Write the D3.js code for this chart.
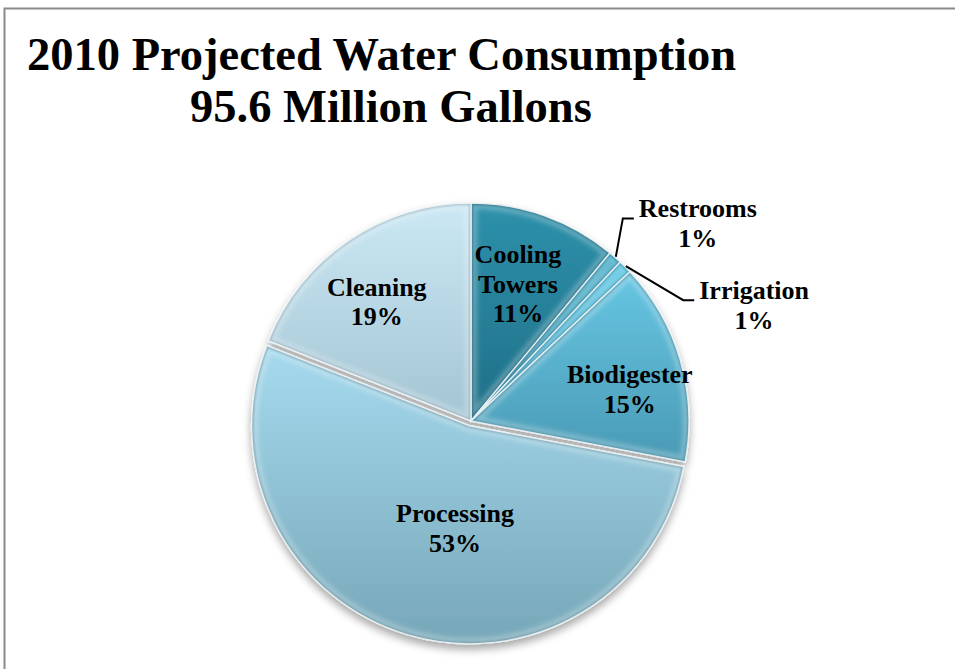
<!DOCTYPE html>
<html>
<head>
<meta charset="utf-8">
<script src="https://cdn.jsdelivr.net/npm/d3@7"></script>
<style>
  html, body { margin: 0; padding: 0; background: #ffffff; }
  svg { display: block; }
</style>
</head>
<body>
<svg id="chart" width="955" height="669"></svg>
<script>
// ---- data ----
const titleLines = ["2010 Projected Water Consumption", "95.6 Million Gallons"];
const categories = ["Cooling Towers", "Restrooms", "Irrigation", "Biodigester", "Processing", "Cleaning"];
const labelNames = [["Cooling", "Towers"], ["Restrooms"], ["Irrigation"], ["Biodigester"], ["Processing"], ["Cleaning"]];
const shares = [11, 1, 1, 15, 53, 19];

// ---- styling ----
const topColors    = ["#2e91ab", "#3aa8c6", "#4cc0e0", "#66c6e3", "#a6daee", "#cbe8f4"];
const bottomColors = ["#1f6f87", "#2b8ba6", "#3ca3c2", "#4a9ab4", "#76a7b8", "#a3c4d2"];
const fontFamily = "'Liberation Serif', 'Times New Roman', serif";

// ---- layout ----
const W = 955, H = 669;
const cx = 471, cy = 421, R = 218;
const explode = [0, 0, 0, 0, 5, 0];
// label block centres in polar form around the pie centre: [angle in degrees clockwise from 12 o'clock, radius]
const labelPolar = [[18.9, 145], [48.9, 301], [67.7, 306], [78.6, 162], [188.5, 108], [321.7, 152]];
const hasLeader = [false, true, true, false, false, false];
const labelSize = 26, lineGap = 29.5;

const svg = d3.select("#chart");
const defs = svg.append("defs");

// frame lines along top and left
svg.append("path")
  .attr("d", `M4.5,${H} L4.5,8.5 L${W},8.5`)
  .attr("fill", "none").attr("stroke", "#8a8a8a").attr("stroke-width", 2);

// title
const title = svg.append("g").attr("font-family", fontFamily).attr("font-weight", "bold")
  .attr("font-size", 46.5).attr("fill", "#000");
title.append("text").attr("x", 27).attr("y", 70).text(titleLines[0]);
title.append("text").attr("x", 190).attr("y", 122).text(titleLines[1]);

// filters
const shadow = defs.append("filter").attr("id", "pieShadow")
  .attr("x", "-20%").attr("y", "-20%").attr("width", "140%").attr("height", "140%");
shadow.append("feDropShadow").attr("dx", 0).attr("dy", 5).attr("stdDeviation", 4)
  .attr("flood-color", "#000").attr("flood-opacity", 0.35);

const soft = defs.append("filter").attr("id", "soft")
  .attr("x", "-10%").attr("y", "-10%").attr("width", "120%").attr("height", "120%");
soft.append("feGaussianBlur").attr("stdDeviation", 2.5);
const softer = defs.append("filter").attr("id", "rimBlur")
  .attr("x", "-10%").attr("y", "-10%").attr("width", "120%").attr("height", "120%");
softer.append("feGaussianBlur").attr("stdDeviation", 1);

// slice gradients
categories.forEach((c, i) => {
  const g = defs.append("linearGradient").attr("id", "grad" + i)
    .attr("x1", 0).attr("y1", 0).attr("x2", 0).attr("y2", 1);
  g.append("stop").attr("offset", "0%").attr("stop-color", topColors[i]);
  g.append("stop").attr("offset", "100%").attr("stop-color", bottomColors[i]);
});

const data = categories.map((c, i) => ({ name: c, value: shares[i], idx: i }));
const pie = d3.pie().value(d => d.value).sort(null);
const arcs = pie(data);
const arc = d3.arc().innerRadius(0).outerRadius(R);

function offsetOf(a) {
  const mid = (a.startAngle + a.endAngle) / 2;
  const e = explode[a.data.idx];
  return [Math.sin(mid) * e, -Math.cos(mid) * e];
}

const pieG = svg.append("g").attr("transform", `translate(${cx},${cy})`);
const sliceLayer = pieG.append("g").attr("filter", "url(#pieShadow)");

const slices = sliceLayer.selectAll("g.slice").data(arcs).join("g")
  .attr("class", "slice")
  .attr("transform", d => `translate(${offsetOf(d)})`);

slices.each(function (d, i) {
  const g = d3.select(this);
  const p = arc(d);
  defs.append("clipPath").attr("id", "clip" + i).append("path").attr("d", p);
  g.append("path").attr("d", p).attr("fill", `url(#grad${i})`);
  const inner = g.append("g").attr("clip-path", `url(#clip${i})`);
  // soft bevel highlight along the slice edges
  inner.append("path").attr("d", p).attr("fill", "none")
    .attr("stroke", "#ffffff").attr("stroke-opacity", 0.28).attr("stroke-width", 12)
    .attr("filter", "url(#soft)");
  // darker rim just inside the outer edge
  inner.append("path").attr("d", p).attr("fill", "none")
    .attr("stroke", d3.color(bottomColors[i]).darker(0.6)).attr("stroke-opacity", 0.55)
    .attr("stroke-width", 4).attr("filter", "url(#rimBlur)");
  // fine separation line
  g.append("path").attr("d", p).attr("fill", "none")
    .attr("stroke", "#eef4f6").attr("stroke-width", 1.4).attr("stroke-opacity", 0.9);
});

// labels
const labelG = svg.append("g").attr("font-family", fontFamily).attr("font-weight", "bold")
  .attr("font-size", labelSize).attr("fill", "#000").attr("text-anchor", "middle");

arcs.forEach((a, i) => {
  const [angDeg, rad] = labelPolar[i];
  const t = angDeg * Math.PI / 180;
  const lx = cx + Math.sin(t) * rad, ly = cy - Math.cos(t) * rad;
  const lines = labelNames[i].concat([a.data.value + "%"]);
  const n = lines.length;
  const text = labelG.append("text");
  lines.forEach((s, k) => {
    text.append("tspan").attr("x", lx)
      .attr("y", ly + (k - (n - 1) / 2) * lineGap + 9).text(s);
  });
  if (hasLeader[i]) {
    const bb = text.node().getBBox();
    const mid = (a.startAngle + a.endAngle) / 2;
    const [ox, oy] = offsetOf(a);
    const sx = cx + ox + Math.sin(mid) * (R + 1), sy = cy + oy - Math.cos(mid) * (R + 1);
    const firstBase = ly - (n - 1) / 2 * lineGap + 9;
    const ex = bb.x - 5, ey = firstBase + 1;
    svg.append("path")
      .attr("d", `M${sx},${sy} L${ex - 11},${ey} L${ex},${ey}`)
      .attr("fill", "none").attr("stroke", "#000").attr("stroke-width", 2);
  }
});
</script>
</body>
</html>
